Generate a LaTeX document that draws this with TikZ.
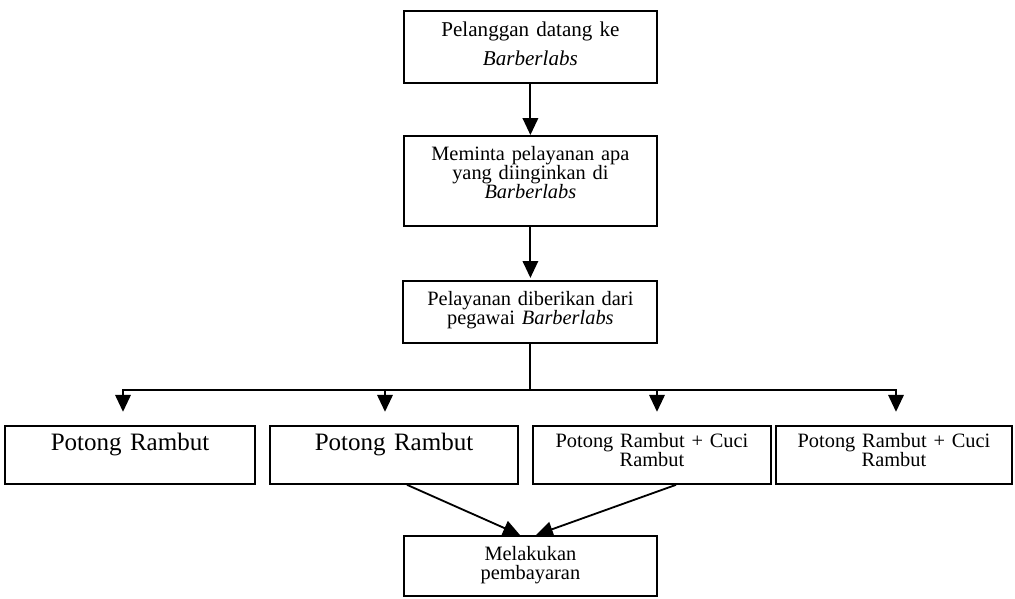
\documentclass[tikz,border=0pt]{standalone}
\usepackage{fontspec}
\setmainfont{Liberation Serif}
\usepackage{tikz}
\usetikzlibrary{arrows.meta,positioning,calc}
\tikzstyle{process} = [rectangle, draw=black, line width=1.3pt, inner xsep=0pt, inner ysep=0pt, align=center, anchor=north, text height=0.625cm, font=\fontsize{14.5}{13.4}\selectfont]
\tikzstyle{arrow} = [line width=1.3pt, -{Triangle[width=11pt,length=12pt]}]

\begin{document}
\begin{tikzpicture}
\useasboundingbox (0,0) rectangle (25.375,-14.95);

% Alur utama
\node[process, text width=6.325cm, text height=0.65cm, text depth=1.15cm, font=\fontsize{15}{20.6}\selectfont] (datang) at (13.26,-0.25) {Pelanggan datang ke\\\textit{Barberlabs}};
\node[process, text width=6.325cm, text depth=1.625cm] (minta) at (13.26,-3.375) {Meminta pelayanan apa\\yang diinginkan di\\\textit{Barberlabs}};
\node[process, text width=6.35cm, text depth=0.925cm] (layanan) at (13.26,-7.0) {Pelayanan diberikan dari\\pegawai \textit{Barberlabs}};

\draw[arrow] (datang.south) -- (minta.north);
\draw[arrow, shorten >=1.5pt] (minta.south) -- (layanan.north);

% Pilihan layanan
\node[process, text width=6.25cm, text depth=0.825cm, font=\fontsize{17.8}{16}\selectfont] (potong1) at (3.25,-10.625) {Potong Rambut};
\node[process, text width=6.2cm, text depth=0.825cm, font=\fontsize{17.8}{16}\selectfont] (potong2) at (9.85,-10.625) {Potong Rambut};
\node[process, text width=5.95cm, text height=0.55cm, text depth=0.9cm] (cuci1) at (16.3,-10.625) {Potong Rambut + Cuci\\Rambut};
\node[process, text width=5.9cm, text height=0.55cm, text depth=0.9cm] (cuci2) at (22.35,-10.625) {Potong Rambut + Cuci\\Rambut};

\coordinate (cabang) at ($(layanan.south)+(0,-1.15)$);
\draw[line width=1.3pt] (layanan.south) -- (cabang);
\foreach \kotak/\dx in {potong1/-0.175, potong2/-0.225, cuci1/0.125, cuci2/0.05}
  \draw[arrow, shorten >=0.33cm] (cabang) -| ($(\kotak.north)+(\dx,0)$);

% Pembayaran
\node[process, text width=6.325cm, text height=0.61cm, text depth=0.9cm] (bayar) at (13.26,-13.375) {Melakukan\\pembayaran};

\draw[arrow] ($(potong2.south)+(0.325,0)$) -- ($(bayar.north)+(-0.26,0)$);
\draw[arrow] ($(cuci1.south)+(0.6,0)$) -- ($(bayar.north)+(0.14,0)$);
\end{tikzpicture}
\end{document}
